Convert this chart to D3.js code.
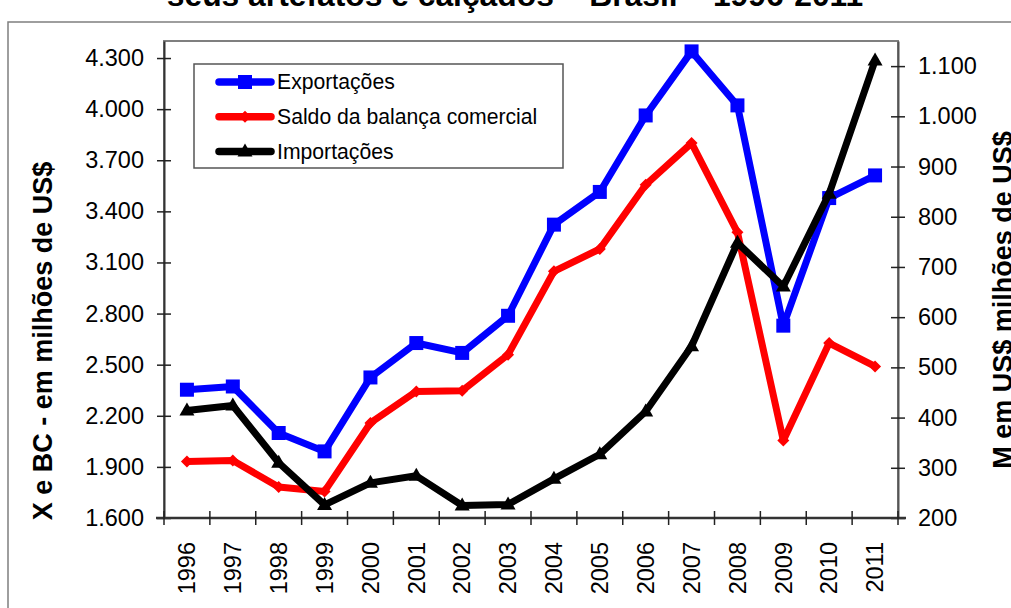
<!DOCTYPE html>
<html>
<head>
<meta charset="utf-8">
<script src="https://cdn.jsdelivr.net/npm/d3@7"></script>
<style>
  html, body { margin: 0; padding: 0; background: #fff; }
  svg { display: block; font-family: "Liberation Sans", Arial, sans-serif; }
</style>
</head>
<body>
<svg id="chart" width="1011" height="608"></svg>
<script>
// Couro, seus artefatos e calçados – Brasil – 1996-2011 (milhões de US$)
const years = ["1996","1997","1998","1999","2000","2001","2002","2003",
               "2004","2005","2006","2007","2008","2009","2010","2011"];
const exportacoes = [2353, 2372, 2099, 1991, 2425, 2627, 2569, 2787,
                     3322, 3514, 3963, 4339, 4022, 2729, 3478, 3611];
const saldo = [1932, 1938, 1782, 1756, 2158, 2343, 2347, 2559,
               3048, 3179, 3556, 3801, 3277, 2055, 2627, 2490];
const importacoes = [414, 424, 310, 226, 270, 284, 225, 227,
                     278, 327, 412, 542, 748, 661, 846, 1111];

const leftTicks = [1600, 1900, 2200, 2500, 2800, 3100, 3400, 3700, 4000, 4300];
const rightTicks = [200, 300, 400, 500, 600, 700, 800, 900, 1000, 1100];

const titleText = "seus artefatos e calçados – Brasil – 1996-2011";
const leftTitle = "X e BC - em milhões de US$";
const rightTitle = "M em US$ milhões de US$";
const legendNames = ["Exportações", "Saldo da balança comercial", "Importações"];

const ptBR = d3.formatLocale({ decimal: ",", thousands: ".", grouping: [3], currency: ["US$", ""] });
const fmt = ptBR.format(",d");

const svg = d3.select("#chart");
const plot = { left: 164, top: 41, right: 898, bottom: 518 };

const x = d3.scaleBand().domain(years).range([plot.left, plot.right]);
const yL = d3.scaleLinear().domain([1600, 4400]).range([plot.bottom, plot.top]);
const yR = d3.scaleLinear().domain([200, 1150]).range([plot.bottom, plot.top]);

// outer chart frame
svg.append("rect")
  .attr("x", 8).attr("y", 22).attr("width", 1100).attr("height", 700)
  .attr("fill", "none").attr("stroke", "#7f7f7f").attr("stroke-width", 1.5);

// chart title (first line falls above the page)
svg.append("text")
  .attr("x", 515).attr("y", 6)
  .attr("text-anchor", "middle")
  .attr("font-size", 31.8).attr("font-weight", "bold")
  .text(titleText);

// plot frame
svg.append("rect")
  .attr("x", plot.left).attr("y", plot.top)
  .attr("width", plot.right - plot.left).attr("height", plot.bottom - plot.top)
  .attr("fill", "none").attr("stroke", "#7f7f7f").attr("stroke-width", 2);

// left axis
const gL = svg.append("g")
  .attr("transform", `translate(${plot.left},0)`)
  .call(d3.axisLeft(yL).tickValues(leftTicks).tickFormat(fmt).tickSizeOuter(0).tickPadding(14));
gL.selectAll(".tick line").attr("x1", 7).attr("x2", -7).attr("stroke", "#222").attr("stroke-width", 1.5);
gL.select(".domain").attr("stroke", "#333").attr("stroke-width", 2);
gL.selectAll(".tick text").attr("font-size", 23.5).attr("fill", "#000")
  .attr("font-family", "Liberation Sans, Arial, sans-serif");

// right axis
const gR = svg.append("g")
  .attr("transform", `translate(${plot.right},0)`)
  .call(d3.axisRight(yR).tickValues(rightTicks).tickFormat(fmt).tickSizeOuter(0).tickPadding(14));
gR.selectAll(".tick line").attr("x1", -7).attr("x2", 7).attr("stroke", "#222").attr("stroke-width", 1.5);
gR.select(".domain").attr("stroke", "#555").attr("stroke-width", 2);
gR.selectAll(".tick text").attr("font-size", 23.5).attr("fill", "#000")
  .attr("font-family", "Liberation Sans, Arial, sans-serif");

// bottom axis: category labels, ticks on band boundaries
const gB = svg.append("g")
  .attr("transform", `translate(0,${plot.bottom})`)
  .call(d3.axisBottom(x).tickSize(0).tickSizeOuter(0).tickPadding(0));
gB.select(".domain").attr("stroke", "#333").attr("stroke-width", 2.5)
  .attr("d", `M${plot.left - 8},0H${plot.right + 8}`);
gB.selectAll(".tick text")
  .attr("font-size", 23.5).attr("fill", "#000")
  .attr("font-family", "Liberation Sans, Arial, sans-serif")
  .attr("text-anchor", "end")
  .attr("dy", "0.35em")
  .attr("transform", "translate(0,24) rotate(-90)")
  .attr("x", 0).attr("y", 0);
const boundaries = years.map(d => x(d)).concat([x(years[years.length - 1]) + x.bandwidth()]);
gB.selectAll("line.bound").data(boundaries).join("line")
  .attr("class", "bound")
  .attr("x1", d => d).attr("x2", d => d)
  .attr("y1", -7).attr("y2", 7)
  .attr("stroke", "#222").attr("stroke-width", 1.5);

// axis titles
svg.append("text")
  .attr("transform", `translate(52,341) rotate(-90)`)
  .attr("text-anchor", "middle")
  .attr("font-size", 27).attr("font-weight", "bold")
  .text(leftTitle);
svg.append("text")
  .attr("transform", `translate(1012,300) rotate(-90)`)
  .attr("text-anchor", "middle")
  .attr("font-size", 27).attr("font-weight", "bold")
  .text(rightTitle);

const cx = d => x(d) + x.bandwidth() / 2;
const squarePath = "M-7,-7H7V7H-7Z";
const diamondPath = "M0,-6L6,0L0,6L-6,0Z";
const trianglePath = "M0,-8L7.5,5L-7.5,5Z";

const series = [
  { name: legendNames[0], values: exportacoes, y: yL, color: "#0000ff", marker: squarePath },
  { name: legendNames[1], values: saldo, y: yL, color: "#ff0000", marker: diamondPath },
  { name: legendNames[2], values: importacoes, y: yR, color: "#000000", marker: trianglePath }
];

series.forEach(s => {
  const line = d3.line().x((v, i) => cx(years[i])).y(v => s.y(v));
  svg.append("path")
    .datum(s.values)
    .attr("d", line)
    .attr("fill", "none")
    .attr("stroke", s.color)
    .attr("stroke-width", 7)
    .attr("stroke-linejoin", "round")
    .attr("stroke-linecap", "round");
  svg.append("g").selectAll("path").data(s.values).join("path")
    .attr("d", s.marker)
    .attr("transform", (v, i) => `translate(${cx(years[i])},${s.y(v)})`)
    .attr("fill", s.color);
});

// legend
const legend = svg.append("g");
legend.append("rect")
  .attr("x", 194).attr("y", 64).attr("width", 369).attr("height", 104)
  .attr("fill", "#fff").attr("stroke", "#555").attr("stroke-width", 1.5);
series.forEach((s, i) => {
  const ly = 82 + i * 34.7;
  legend.append("line")
    .attr("x1", 219).attr("x2", 271).attr("y1", ly).attr("y2", ly)
    .attr("stroke", s.color).attr("stroke-width", 7.5).attr("stroke-linecap", "round");
  legend.append("path")
    .attr("d", s.marker)
    .attr("transform", `translate(245,${ly})`)
    .attr("fill", s.color);
  legend.append("text")
    .attr("x", 277).attr("y", ly).attr("dy", "0.35em")
    .attr("font-size", 21.2).attr("fill", "#000")
    .text(s.name);
});
</script>
</body>
</html>
